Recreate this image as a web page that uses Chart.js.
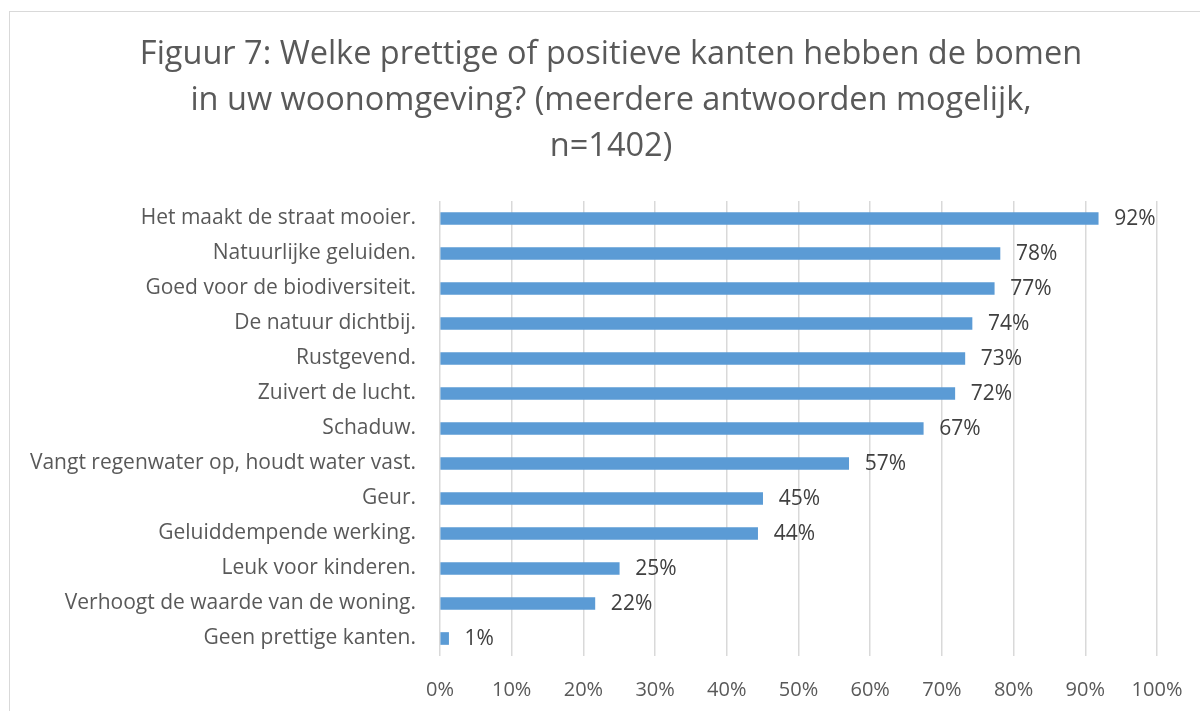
<!DOCTYPE html>
<html>
<head>
<meta charset="utf-8">
<script src="https://cdn.jsdelivr.net/npm/chart.js@4.4.1/dist/chart.umd.min.js"></script>
<style>
    html, body { margin: 0; padding: 0; background: #fff; }
    #wrap { position: relative; width: 1200px; height: 711px; overflow: hidden; }
    #frame { position: absolute; left: 9px; top: 11px; width: 1300px; height: 800px;
             border-left: 1px solid #d9d9d9; border-top: 1px solid #d9d9d9; }
    canvas { position: absolute; left: 0; top: 0; }
</style>
</head>
<body>
<div id="wrap">
    <div id="frame"></div>
    <canvas id="chart" width="1200" height="711"></canvas>
</div>
<script>
const titleLines = [
    'Figuur 7: Welke prettige of positieve kanten hebben de bomen',
    'in uw woonomgeving? (meerdere antwoorden mogelijk,',
    'n=1402)'
];

const categories = [
    'Het maakt de straat mooier.',
    'Natuurlijke geluiden.',
    'Goed voor de biodiversiteit.',
    'De natuur dichtbij.',
    'Rustgevend.',
    'Zuivert de lucht.',
    'Schaduw.',
    'Vangt regenwater op, houdt water vast.',
    'Geur.',
    'Geluiddempende werking.',
    'Leuk voor kinderen.',
    'Verhoogt de waarde van de woning.',
    'Geen prettige kanten.'
];

const values = [91.8, 78.1, 77.3, 74.2, 73.2, 71.8, 67.4, 57.0, 45.0, 44.3, 25.0, 21.6, 1.2];
const valueLabels = ['92%', '78%', '77%', '74%', '73%', '72%', '67%', '57%', '45%', '44%', '25%', '22%', '1%'];

const FONT = '"Open Sans", Lato, sans-serif';

// title drawn by hand so it can be centred on the whole frame
const titlePlugin = {
    id: 'titleLines',
    afterDraw(chart) {
        const ctx = chart.ctx;
        ctx.save();
        ctx.fillStyle = '#595959';
        ctx.font = '32.5px ' + FONT;
        ctx.textAlign = 'center';
        ctx.textBaseline = 'alphabetic';
        titleLines.forEach((line, i) => {
            ctx.fillText(line, 611, 64 + i * 46);
        });
        ctx.restore();
    }
};

const valuePlugin = {
    id: 'valueLabels',
    afterDatasetsDraw(chart) {
        const ctx = chart.ctx;
        const meta = chart.getDatasetMeta(0);
        ctx.save();
        ctx.fillStyle = '#404040';
        ctx.font = '21px ' + FONT;
        ctx.textAlign = 'left';
        ctx.textBaseline = 'middle';
        meta.data.forEach((bar, i) => {
            ctx.fillText(valueLabels[i], bar.x + 16, bar.y + 1);
        });
        ctx.restore();
    }
};

new Chart(document.getElementById('chart'), {
    type: 'bar',
    data: {
        labels: categories,
        datasets: [{
            data: values,
            backgroundColor: '#5b9bd5',
            borderWidth: 0,
            barThickness: 12
        }]
    },
    options: {
        indexAxis: 'y',
        responsive: false,
        animation: false,
        layout: { padding: { top: 201, right: 43, bottom: 0, left: 0 } },
        plugins: {
            legend: { display: false },
            tooltip: { enabled: false },
            title: { display: false }
        },
        scales: {
            x: {
                min: 0,
                max: 100,
                ticks: {
                    stepSize: 10,
                    color: '#595959',
                    font: { family: FONT, size: 20 },
                    padding: 22,
                    callback: v => v + '%'
                },
                grid: { color: '#d9d9d9', lineWidth: 1.5, drawTicks: false },
                border: { display: false },
                afterFit: s => {
                    s.height = 55;
                    s.paddingLeft = 0;
                    s.paddingRight = 0;
                }
            },
            y: {
                ticks: {
                    color: '#595959',
                    font: { family: FONT, size: 21 },
                    padding: 24,
                    autoSkip: false
                },
                grid: { display: false, drawTicks: false },
                border: { display: false },
                afterFit: s => { s.width = 440; }
            }
        }
    },
    plugins: [titlePlugin, valuePlugin]
});
</script>
</body>
</html>
